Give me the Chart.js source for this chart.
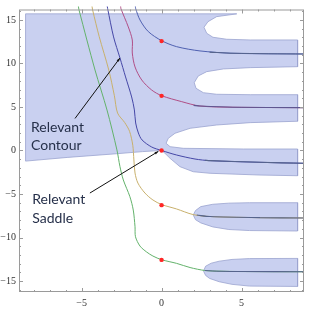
<!DOCTYPE html>
<html><head><meta charset="utf-8">
<script src="https://cdn.jsdelivr.net/npm/chart.js@4/dist/chart.umd.min.js"></script>
<style>html,body{margin:0;padding:0;background:#fff;}canvas{display:block;}</style>
</head><body>
<canvas id="c" width="313" height="310"></canvas>
<script>
// ---- axis ticks ----
const xMajorTicks = [-5, 0, 5];
const xTickLabels = ['\u22125', '0', '5'];
const xMinorTicks = [-8, -7, -6, -4, -3, -2, -1, 1, 2, 3, 4, 6, 7, 8];
const yMajorTicks = [-15, -10, -5, 0, 5, 10, 15];
const yTickLabels = ['\u221215', '\u221210', '\u22125', '0', '5', '10', '15'];
const yMinorTicks = [-16, -14, -13, -12, -11, -9, -8, -7, -6, -4, -3, -2, -1, 1, 2, 3, 4, 6, 7, 8, 9, 11, 12, 13, 14, 16];

// ---- shaded regions (x, y) ----
const shadedMain = [
  [-8.5,15.7],[4.7,15.7],[3.44,15.38],[2.9,14.8],[2.65,14.16],[2.82,13.47],[3.21,13.01],[4.07,12.78],[5.54,12.7],[8.5,12.7],
  [8.5,9.63],[5.54,9.52],[3.86,9.37],[2.82,9.06],[2.29,8.56],[2.04,7.79],[2.15,7.15],[2.61,6.64],[3.44,6.46],[5.54,6.41],[8.5,6.41],
  [8.5,3.36],[5.54,3.2],[3.44,2.93],[1.78,2.55],[0.84,1.98],[0.42,1.4],[0.28,0.83],[0.53,0.44],[1.36,0.25],[5.11,0.17],[8.5,0.17],
  [8.5,-2.9],[6.15,-2.82],[3.03,-2.62],[1.98,-2.44],[1.15,-1.86],[0.53,-0.9],[0.21,-0.32],[0,0],
  [-0.3,-0.03],[-1.2,-0.13],[-2.8,-0.37],[-5.9,-0.8],[-8.5,-1.22],[-8.5,15.7]
];
const shadedBlobUpper = [
  [1.98,-7.42],[2.12,-6.9],[2.45,-6.45],[3.2,-6.18],[4.2,-6.05],[5.5,-6.0],[8.5,-6.0],
  [8.5,-9.25],[5.5,-9.2],[4.2,-9.08],[3.2,-8.78],[2.45,-8.32],[2.12,-7.95],[1.98,-7.42]
];
const shadedBlobLower = [
  [2.62,-13.85],[2.75,-13.3],[3.1,-12.95],[3.6,-12.72],[4.4,-12.52],[5.5,-12.42],[8.5,-12.4],
  [8.5,-15.62],[5.5,-15.58],[4.4,-15.38],[3.6,-15.08],[3.0,-14.7],[2.75,-14.35],[2.62,-13.85]
];

// ---- contours (x, y) ----
const contourGreen = [[-5.2,16.6],[-5.16,16.15],[-4.16,9.25],[-3.41,4.65],[-2.79,0.06],[-2.6,-1.86],[-2.39,-3.39],[-1.98,-5.31],[-1.77,-6.84],[-1.66,-8.76],[-1.63,-9.91],[-1.35,-10.98],[-0.93,-11.67],[-0.54,-12.13],[0,-12.55],[0.94,-12.97],[1.78,-13.45],[2.71,-13.79],[3.65,-13.87],[5.09,-13.91],[8.9,-13.93]];
const contourTan = [[-4.35,16.6],[-4.31,16.15],[-3.9,13.1],[-3.3,9.25],[-2.95,6.3],[-2.75,4.3],[-2.3,3.2],[-2.0,2.2],[-1.8,0.6],[-1.73,-1.09],[-1.66,-2.59],[-1.48,-3.74],[-1.04,-4.89],[-0.54,-5.69],[0,-6.21],[0.94,-6.72],[1.96,-7.36],[3.03,-7.59],[6.15,-7.72],[8.9,-7.75]];
const contourRelevant = [[-3.4,16.6],[-3.37,16.3],[-3.0,13.05],[-2.6,10.63],[-2.25,8.45],[-1.87,6.15],[-1.7,4.66],[-1.62,3.16],[-1.45,2.01],[-1.22,1.21],[-0.62,0.4],[0,0],[0.94,-0.52],[2.09,-0.98],[3.03,-1.17],[6.15,-1.36],[8.9,-1.47]];
const contourMagenta = [[-2.56,16.6],[-2.54,16.3],[-2.08,14.2],[-1.83,12.7],[-1.83,11.2],[-1.66,9.6],[-1.24,8.1],[-0.62,6.95],[0,6.3],[1.26,5.61],[2.4,5.11],[4.46,4.97],[8.9,4.92]];
const contourBlue = [[-1.64,16.6],[-1.62,16.3],[-1.35,15.0],[-0.83,13.66],[0,12.62],[0.94,11.93],[2.4,11.44],[4.46,11.17],[8.9,11.09]];
const tailTop = [[3.0,11.3],[4.46,11.17],[8.9,11.09]];
const tailSecond = [[2.0,5.18],[2.4,5.11],[4.46,4.97],[8.9,4.92]];
const tailThird = [[2.7,-1.12],[3.03,-1.17],[6.15,-1.36],[8.9,-1.47]];
const tailFourth = [[2.2,-7.42],[3.03,-7.59],[6.15,-7.72],[8.9,-7.75]];
const tailFifth = [[2.71,-13.79],[3.65,-13.87],[5.09,-13.91],[8.9,-13.93]];
const saddlePoints = [[0,12.57],[0,6.28],[0,0],[0,-6.28],[0,-12.57]];

// ---- annotations ----
const noteContourLines = ['Relevant', 'Contour'];
const noteContourAt = [[-8.16, 2.16], [-8.16, 0.06]];
const noteContourArrow = [[-5.41, 3.68], [-2.6, 10.63]];
const noteSaddleLines = ['Relevant', 'Saddle'];
const noteSaddleAt = [[-8.08, -6.18], [-8.08, -8.37]];
const noteSaddleArrow = [[-4.48, -4.89], [-0.2, -0.1]];

const pts = a => a.map(([x, y]) => ({x, y}));
const region = (d) => ({data: pts(d), showLine: true, fill: 'shape', backgroundColor: '#c9d0f0',
  borderColor: '#9aa3cf', borderWidth: 0.8, pointRadius: 0, tension: 0, order: 10});
const curve = (d, c, w) => ({data: pts(d), showLine: true, fill: false, borderColor: c, borderWidth: w || 1,
  pointRadius: 0, tension: 0.3, order: 2, clip: {left: 0, top: 3, right: 0, bottom: 0}});

const datasets = [
  {data: pts(saddlePoints), showLine: false, pointRadius: 2.2, pointBackgroundColor: '#ff2626', pointBorderWidth: 0, order: 0},
  curve(tailTop, '#56648c', 1.1), curve(tailSecond, '#5f5690', 1.1), curve(tailThird, '#56648c', 1.1),
  curve(tailFourth, '#56648c', 1.1), curve(tailFifth, '#56648c', 1.1),
  curve(contourGreen, '#63b26b'), curve(contourTan, '#c8b06c'), curve(contourRelevant, '#4547a6'),
  curve(contourMagenta, '#b04f86'), curve(contourBlue, '#4f60b0'),
  region(shadedMain), region(shadedBlobUpper), region(shadedBlobLower)
];

const framePlugin = {
  id: 'frame',
  afterDatasetsDraw(chart) {
    const {ctx, chartArea: a, scales: {x, y}} = chart;
    ctx.save();
    ctx.strokeStyle = '#9a9a9a';
    ctx.lineWidth = 1;
    ctx.strokeRect(a.left + 0.5, a.top + 0.5, a.right - a.left - 1, a.bottom - a.top - 1);
    ctx.beginPath();
    const X = v => Math.round(x.getPixelForValue(v)) + 0.5;
    const Y = v => Math.round(y.getPixelForValue(v)) + 0.5;
    const vt = (v, len) => { const p = X(v); ctx.moveTo(p, a.bottom); ctx.lineTo(p, a.bottom - len); ctx.moveTo(p, a.top); ctx.lineTo(p, a.top + len); };
    const ht = (v, len) => { const p = Y(v); ctx.moveTo(a.left, p); ctx.lineTo(a.left + len, p); ctx.moveTo(a.right, p); ctx.lineTo(a.right - len, p); };
    xMajorTicks.forEach(v => vt(v, 4)); xMinorTicks.forEach(v => vt(v, 2));
    yMajorTicks.forEach(v => ht(v, 4)); yMinorTicks.forEach(v => ht(v, 2));
    ctx.stroke();

    // annotations
    ctx.font = '14px Lato';
    ctx.fillStyle = '#26304a';
    ctx.textBaseline = 'alphabetic';
    ctx.textAlign = 'left';
    noteContourLines.forEach((t, i) => ctx.fillText(t, x.getPixelForValue(noteContourAt[i][0]), y.getPixelForValue(noteContourAt[i][1])));
    noteSaddleLines.forEach((t, i) => ctx.fillText(t, x.getPixelForValue(noteSaddleAt[i][0]), y.getPixelForValue(noteSaddleAt[i][1])));
    const arrow = (seg) => {
      const x0 = x.getPixelForValue(seg[0][0]), y0 = y.getPixelForValue(seg[0][1]);
      const x1 = x.getPixelForValue(seg[1][0]), y1 = y.getPixelForValue(seg[1][1]);
      ctx.strokeStyle = '#111'; ctx.lineWidth = 1;
      ctx.beginPath(); ctx.moveTo(x0, y0); ctx.lineTo(x1, y1); ctx.stroke();
      const ang = Math.atan2(y1 - y0, x1 - x0), L = 4, W = 0.35;
      ctx.fillStyle = '#111';
      ctx.beginPath(); ctx.moveTo(x1, y1);
      ctx.lineTo(x1 - L * Math.cos(ang - W), y1 - L * Math.sin(ang - W));
      ctx.lineTo(x1 - L * Math.cos(ang + W), y1 - L * Math.sin(ang + W));
      ctx.closePath(); ctx.fill();
    };
    arrow(noteContourArrow);
    arrow(noteSaddleArrow);
    ctx.restore();
  }
};

new Chart(document.getElementById('c'), {
  type: 'scatter',
  data: {datasets},
  options: {
    responsive: false, animation: false, devicePixelRatio: 1,
    layout: {padding: {top: 9.5, right: 9, left: 0, bottom: 0}},
    plugins: {legend: {display: false}, tooltip: {enabled: false}},
    scales: {
      x: {type: 'linear', min: -8.91, max: 8.9,
        grid: {display: false, drawTicks: false}, border: {display: false},
        afterBuildTicks: s => { s.ticks = xMajorTicks.map(v => ({value: v})); },
        ticks: {callback: (v, i) => xTickLabels[i], font: {family: 'Liberation Serif', size: 10}, color: '#333', padding: 5, maxRotation: 0, autoSkip: false},
        afterFit: s => { s.height = 18; }
      },
      y: {type: 'linear', min: -16.26, max: 16.2,
        grid: {display: false, drawTicks: false}, border: {display: false},
        afterBuildTicks: s => { s.ticks = yMajorTicks.map(v => ({value: v})); },
        ticks: {callback: (v, i) => yTickLabels[i], font: {family: 'Liberation Serif', size: 10}, color: '#333', padding: 3, autoSkip: false},
        afterFit: s => { s.height; s.width = 19; }
      }
    }
  },
  plugins: [framePlugin]
});
</script>
</body></html>
